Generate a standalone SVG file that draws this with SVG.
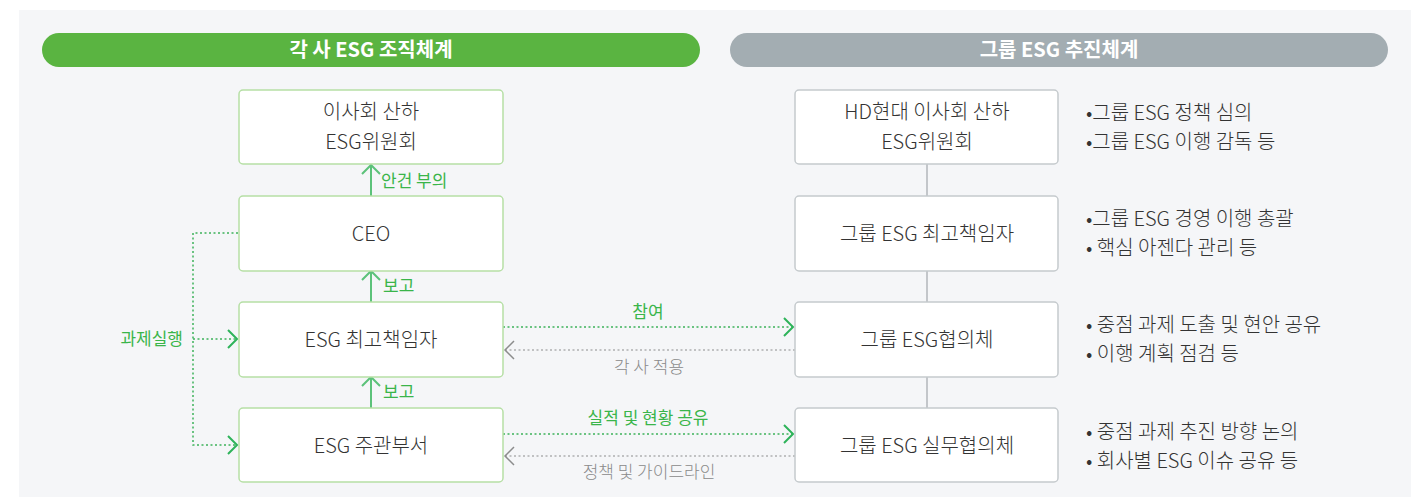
<svg xmlns="http://www.w3.org/2000/svg" width="1423" height="497" viewBox="0 0 1423 497">
<style>
text{font-family:"Noto Sans CJK KR","Noto Sans",sans-serif}
.hd{font-size:20px;font-weight:bold;fill:#fff;text-anchor:middle}
.bx{font-size:20px;font-weight:300;fill:#333;text-anchor:middle}
.ds{font-size:20px;font-weight:300;fill:#333}
.gl{font-size:17px;font-weight:400;fill:#3ab54a}
.gy{font-size:17px;font-weight:300;fill:#8a8a8a}
.lb{fill:#fff;stroke:#b6dfa5;stroke-width:1.5}
.rb{fill:#fff;stroke:#c5cacd;stroke-width:1.5}
.gd{fill:none;stroke:#3db35a;stroke-width:1.5;stroke-dasharray:2 2.5}
.yd{fill:none;stroke:#8c8c8c;stroke-width:1.2;stroke-dasharray:2 2.5}
.gh{fill:none;stroke:#2eb35a;stroke-width:2}
.yh{fill:none;stroke:#8c8c8c;stroke-width:1.5}
.va{fill:none;stroke:#5cc27a;stroke-width:2}
.rl{fill:none;stroke:#b3b7ba;stroke-width:1.5}
</style>
<rect x="19" y="10" width="1392" height="487" fill="#f5f6f8"/>
<g id="header-left">
<rect x="42" y="33" width="658" height="34" rx="17" fill="#5ab441"/>
<text class="hd" x="371" y="57">각 사 ESG 조직체계</text>
</g>
<g id="header-right">
<rect x="730" y="33" width="658" height="34" rx="17" fill="#a3adb2"/>
<text class="hd" x="1059" y="57">그룹 ESG 추진체계</text>
</g>
<g id="connectors">
<path class="va" d="M371,196 V165 M362,174 L371,165 L380,174"/>
<path class="va" d="M371,302 V271 M362,280 L371,271 L380,280"/>
<path class="va" d="M371,408 V377 M362,386 L371,377 L380,386"/>
<path class="gd" d="M238,233 H193 V445 H236"/>
<path class="gd" d="M193,339 H236"/>
<path class="gh" d="M228,330 L237,339 L228,348"/>
<path class="gh" d="M228,436 L237,445 L228,454"/>
<path class="gd" d="M503,327 H792"/>
<path class="gh" d="M784,318 L793,327 L784,336"/>
<path class="yd" d="M795,350 H506"/>
<path class="yh" d="M514,341 L505,350 L514,359"/>
<path class="gd" d="M503,434 H792"/>
<path class="gh" d="M784,425 L793,434 L784,443"/>
<path class="yd" d="M795,456 H506"/>
<path class="yh" d="M514,447 L505,456 L514,465"/>
<path class="rl" d="M927,164 V196 M927,271 V302 M927,377 V408"/>
<text class="gl" x="381" y="187">안건 부의</text>
<text class="gl" x="383" y="292">보고</text>
<text class="gl" x="383" y="398">보고</text>
<text class="gl" x="183" y="345" text-anchor="end">과제실행</text>
<text class="gl" x="648" y="318" text-anchor="middle">참여</text>
<text class="gy" x="649" y="373" text-anchor="middle">각 사 적용</text>
<text class="gl" x="648" y="424" text-anchor="middle">실적 및 현황 공유</text>
<text class="gy" x="649" y="478" text-anchor="middle">정책 및 가이드라인</text>
</g>
<g id="left-board">
<rect class="lb" x="239" y="90" width="264" height="74" rx="4"/>
<text class="bx" x="371" y="119">이사회 산하</text>
<text class="bx" x="371" y="149">ESG위원회</text>
</g>
<g id="left-ceo">
<rect class="lb" x="239" y="196" width="264" height="75" rx="4"/>
<text class="bx" x="371" y="241">CEO</text>
</g>
<g id="left-cso">
<rect class="lb" x="239" y="302" width="264" height="75" rx="4"/>
<text class="bx" x="371" y="347">ESG 최고책임자</text>
</g>
<g id="left-dept">
<rect class="lb" x="239" y="408" width="264" height="74" rx="4"/>
<text class="bx" x="371" y="453">ESG 주관부서</text>
</g>
<g id="right-board">
<rect class="rb" x="795" y="90" width="263" height="74" rx="4"/>
<text class="bx" x="927" y="119">HD현대 이사회 산하</text>
<text class="bx" x="927" y="149">ESG위원회</text>
</g>
<g id="right-cso">
<rect class="rb" x="795" y="196" width="263" height="75" rx="4"/>
<text class="bx" x="927" y="241">그룹 ESG 최고책임자</text>
</g>
<g id="right-council">
<rect class="rb" x="795" y="302" width="263" height="75" rx="4"/>
<text class="bx" x="927" y="347">그룹 ESG협의체</text>
</g>
<g id="right-working">
<rect class="rb" x="795" y="408" width="263" height="74" rx="4"/>
<text class="bx" x="927" y="453">그룹 ESG 실무협의체</text>
</g>
<g id="desc-board">
<text class="ds" x="1086" y="120">•그룹 ESG 정책 심의</text>
<text class="ds" x="1086" y="149">•그룹 ESG 이행 감독 등</text>
</g>
<g id="desc-cso">
<text class="ds" x="1086" y="226">•그룹 ESG 경영 이행 총괄</text>
<text class="ds" x="1086" y="255">• 핵심 아젠다 관리 등</text>
</g>
<g id="desc-council">
<text class="ds" x="1086" y="332">• 중점 과제 도출 및 현안 공유</text>
<text class="ds" x="1086" y="361">• 이행 계획 점검 등</text>
</g>
<g id="desc-working">
<text class="ds" x="1086" y="439">• 중점 과제 추진 방향 논의</text>
<text class="ds" x="1086" y="468">• 회사별 ESG 이슈 공유 등</text>
</g>
</svg>
